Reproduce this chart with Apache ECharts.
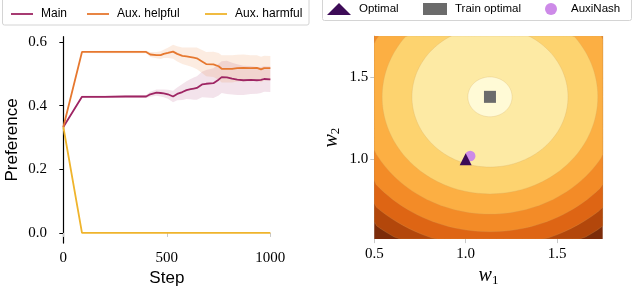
<!DOCTYPE html>
<html><head><meta charset="utf-8">
<script src="https://cdn.jsdelivr.net/npm/echarts@6/dist/echarts.min.js"></script>
<style>html,body{margin:0;padding:0;background:#fff}#c{width:634px;height:292px}</style>
</head><body><div id="c"></div>
<script>
// ---- Left panel data ----
const steps        = [0, 90, 200, 300, 400, 420, 450, 470, 485, 505, 530, 550, 575, 595, 615, 630, 645, 670, 690, 725, 750, 765, 790, 815, 840, 870, 905, 935, 955, 970, 1000];
const mainPref     = [0.333, 0.428, 0.428, 0.429, 0.429, 0.436, 0.441, 0.440, 0.439, 0.436, 0.429, 0.437, 0.443, 0.449, 0.452, 0.454, 0.456, 0.467, 0.469, 0.471, 0.482, 0.490, 0.489, 0.485, 0.482, 0.480, 0.481, 0.480, 0.481, 0.484, 0.483];
const mainSpread   = [0, 0.004, 0.004, 0.004, 0.005, 0.008, 0.010, 0.011, 0.012, 0.014, 0.018, 0.020, 0.025, 0.028, 0.032, 0.035, 0.037, 0.040, 0.043, 0.047, 0.050, 0.050, 0.052, 0.050, 0.048, 0.046, 0.044, 0.042, 0.041, 0.040, 0.040];
const helpfulPref  = [0.333, 0.569, 0.569, 0.569, 0.569, 0.561, 0.559, 0.559, 0.563, 0.566, 0.570, 0.563, 0.557, 0.555, 0.553, 0.551, 0.549, 0.539, 0.531, 0.530, 0.524, 0.516, 0.516, 0.516, 0.518, 0.519, 0.518, 0.519, 0.514, 0.518, 0.518];
const helpfulSpread= [0, 0.003, 0.004, 0.004, 0.004, 0.008, 0.010, 0.012, 0.013, 0.016, 0.022, 0.024, 0.026, 0.028, 0.030, 0.032, 0.034, 0.036, 0.038, 0.040, 0.042, 0.043, 0.043, 0.043, 0.042, 0.042, 0.041, 0.040, 0.040, 0.039, 0.038];
const harmfulPref  = [0.333, 0, 0, 0, 0, 0, 0, 0, 0, 0, 0, 0, 0, 0, 0, 0, 0, 0, 0, 0, 0, 0, 0, 0, 0, 0, 0, 0, 0, 0, 0];
const leftXTicks   = [0, 500, 1000];
const leftYTicks   = [0, 0.2, 0.4, 0.6];
const leftNames    = ['Main', 'Aux. helpful', 'Aux. harmful'];

// ---- Right panel data ----
const contourCenter = [1.133, 1.38];
const levelRadii    = [1.3, 1.0, 0.915, 0.82, 0.713, 0.59, 0.427, 0.121];
const levelColors   = ['#7c2c0a', '#b3470b', '#de6514', '#f38b27', '#fcaf43', '#fdd36f', '#fdeaa4', '#fffad6'];
const optimalPt     = [1.0, 1.0];
const trainOptPt    = [1.133, 1.38];
const auxiNashPt    = [1.025, 1.02];
const rightXTicks   = [0.5, 1.0, 1.5];
const rightYTicks   = [1.0, 1.5];
const rightNames    = ['Optimal', 'Train optimal', 'AuxiNash'];

const C_MAIN = '#9e2563', C_HELP = '#e6782f', C_HARM = '#efb42c';
const SERIF = 'Liberation Serif', SANS = 'Liberation Sans';
const RX = [0.5, 1.75], RY = [0.515, 1.75];

function zip(xs, ys) { return xs.map((x, i) => [x, ys[i]]); }

function band(name, center, spread, fill) {
  return {
    type: 'custom', name, xAxisIndex: 0, yAxisIndex: 0, silent: true, z: 1,
    data: [[0, 0]],
    renderItem(params, api) {
      const pts = [];
      for (let i = 0; i < steps.length; i++) pts.push(api.coord([steps[i], center[i] + spread[i]]));
      for (let i = steps.length - 1; i >= 0; i--) pts.push(api.coord([steps[i], center[i] - spread[i]]));
      return { type: 'polygon', shape: { points: pts }, style: { fill } };
    }
  };
}

const chart = echarts.init(document.getElementById('c'), null, { renderer: 'canvas' });

const legendLeftPos = [11, 87, 205];
const rightLegendPos = [327, 423, 545];
const legends = [];
leftNames.forEach((n, i) => legends.push({
  data: [n], left: legendLeftPos[i], top: 8, padding: 0, itemWidth: 22, itemHeight: 1.8, icon: 'rect',
  textStyle: { fontFamily: SANS, fontSize: 12, color: '#000', padding: [0, 0, 0, 3] }
}));
rightNames.forEach((n, i) => legends.push({
  data: [n], left: rightLegendPos[i], top: 3, padding: 0, itemWidth: 24, itemHeight: 12,
  textStyle: { fontFamily: SANS, fontSize: 11.5, color: '#000', padding: [0, 0, 0, 3] }
}));

const option = {
  animation: false,
  backgroundColor: '#fff',
  graphic: [
    { type: 'rect', shape: { x: 2.5, y: -4, width: 306.5, height: 29, r: 2 }, style: { fill: '#fff', stroke: '#d4d4d4', lineWidth: 1 }, z: -10 },
    { type: 'rect', shape: { x: 322.5, y: -4, width: 309, height: 24.5, r: 2 }, style: { fill: '#fff', stroke: '#d4d4d4', lineWidth: 1 }, z: -10 }
  ],
  legend: legends,
  grid: [
    { left: 53, top: 36.7, width: 227.7, height: 208.3 },
    { left: 374.3, top: 36, width: 228.4, height: 209.5 }
  ],
  xAxis: [
    {
      gridIndex: 0, type: 'value', min: -50, max: 1050,
      axisLine: { show: false },
      axisTick: { show: true, customValues: leftXTicks, length: 4, lineStyle: { color: '#c8c8c8' } },
      axisLabel: { customValues: leftXTicks, formatter: v => String(v), fontFamily: SERIF, fontSize: 15, color: '#000', margin: 7 },
      splitLine: { show: false },
      name: 'Step', nameLocation: 'middle', nameGap: 24,
      nameTextStyle: { fontFamily: SANS, fontSize: 17, color: '#000' }
    },
    {
      gridIndex: 1, type: 'value', min: RX[0], max: RX[1],
      axisLine: { show: false },
      axisTick: { show: true, customValues: rightXTicks, length: 4, lineStyle: { color: '#c8c8c8' } },
      axisLabel: { customValues: rightXTicks, formatter: v => v.toFixed(1), fontFamily: SERIF, fontSize: 15, color: '#000', margin: 7 },
      splitLine: { show: false },
      name: '{w|w}{s|1}', nameLocation: 'middle', nameGap: 25,
      nameTextStyle: { rich: {
        w: { fontFamily: SERIF, fontStyle: 'italic', fontSize: 20, color: '#000' },
        s: { fontFamily: SERIF, fontSize: 13, color: '#000', padding: [9, 0, 0, 0] }
      } }
    }
  ],
  yAxis: [
    {
      gridIndex: 0, type: 'value', min: -0.032, max: 0.617,
      axisLine: { show: true, lineStyle: { color: '#000', width: 1.2 } },
      axisTick: { show: true, customValues: leftYTicks, length: 4, lineStyle: { color: '#000' } },
      axisLabel: { customValues: leftYTicks, formatter: v => v.toFixed(1), fontFamily: SERIF, fontSize: 15, color: '#000', margin: 6 },
      splitLine: { show: false },
      name: 'Preference', nameLocation: 'middle', nameGap: 32,
      nameTextStyle: { fontFamily: SANS, fontSize: 17, color: '#000' }
    },
    {
      gridIndex: 1, type: 'value', min: RY[0], max: RY[1],
      axisLine: { show: true, lineStyle: { color: '#c6c6c6', width: 1 } },
      axisTick: { show: true, customValues: rightYTicks, length: 4, lineStyle: { color: '#c6c6c6' } },
      axisLabel: { customValues: rightYTicks, formatter: v => v.toFixed(1), fontFamily: SERIF, fontSize: 15, color: '#000', margin: 6 },
      splitLine: { show: false },
      name: '{w|w}{s|2}', nameLocation: 'middle', nameGap: 32,
      nameTextStyle: { rich: {
        w: { fontFamily: SERIF, fontStyle: 'italic', fontSize: 20, color: '#000' },
        s: { fontFamily: SERIF, fontSize: 13, color: '#000', padding: [9, 0, 0, 0] }
      } }
    }
  ],
  series: [
    band('Main band', mainPref, mainSpread, 'rgba(160,40,100,0.13)'),
    band('Helpful band', helpfulPref, helpfulSpread, 'rgba(232,120,46,0.14)'),
    { type: 'line', name: 'Main', xAxisIndex: 0, yAxisIndex: 0, data: zip(steps, mainPref), symbol: 'none', lineStyle: { color: C_MAIN, width: 1.8 }, itemStyle: { color: C_MAIN }, z: 3 },
    { type: 'line', name: 'Aux. helpful', xAxisIndex: 0, yAxisIndex: 0, data: zip(steps, helpfulPref), symbol: 'none', lineStyle: { color: C_HELP, width: 1.8 }, itemStyle: { color: C_HELP }, z: 3 },
    { type: 'line', name: 'Aux. harmful', xAxisIndex: 0, yAxisIndex: 0, data: zip(steps, harmfulPref), symbol: 'none', lineStyle: { color: C_HARM, width: 1.8 }, itemStyle: { color: C_HARM }, z: 3 },
    {
      type: 'custom', name: 'contour', xAxisIndex: 1, yAxisIndex: 1, silent: true, z: 1, clip: true,
      data: levelRadii.map(r => [contourCenter[0], contourCenter[1], r]),
      encode: { x: 0, y: 1 },
      renderItem(params, api) {
        const i = params.dataIndex;
        const r = levelRadii[i];
        const pts = [];
        const N = 160;
        for (let k = 0; k < N; k++) {
          const t = 2 * Math.PI * k / N;
          let x = contourCenter[0] + r * Math.cos(t);
          let y = contourCenter[1] + r * Math.sin(t);
          x = Math.min(Math.max(x, RX[0]), RX[1]);
          y = Math.min(Math.max(y, RY[0]), RY[1]);
          pts.push(api.coord([x, y]));
        }
        return {
          type: 'polygon', shape: { points: pts },
          style: { fill: levelColors[i], stroke: i === 0 ? null : 'rgba(205,165,100,0.35)', lineWidth: 0.7 }
        };
      }
    },
    { type: 'scatter', name: 'AuxiNash', xAxisIndex: 1, yAxisIndex: 1, data: [auxiNashPt], symbol: 'circle', symbolSize: 10.5, itemStyle: { color: '#cd8ae8', opacity: 1 }, z: 3 },
    { type: 'scatter', name: 'Optimal', xAxisIndex: 1, yAxisIndex: 1, data: [optimalPt], symbol: 'triangle', symbolSize: 12, itemStyle: { color: '#3d0b57', opacity: 1 }, z: 4 },
    { type: 'scatter', name: 'Train optimal', xAxisIndex: 1, yAxisIndex: 1, data: [trainOptPt], symbol: 'rect', symbolSize: 12, itemStyle: { color: '#6b6b6b', opacity: 1 }, z: 4 }
  ]
};
chart.setOption(option);
</script>
</body></html>
